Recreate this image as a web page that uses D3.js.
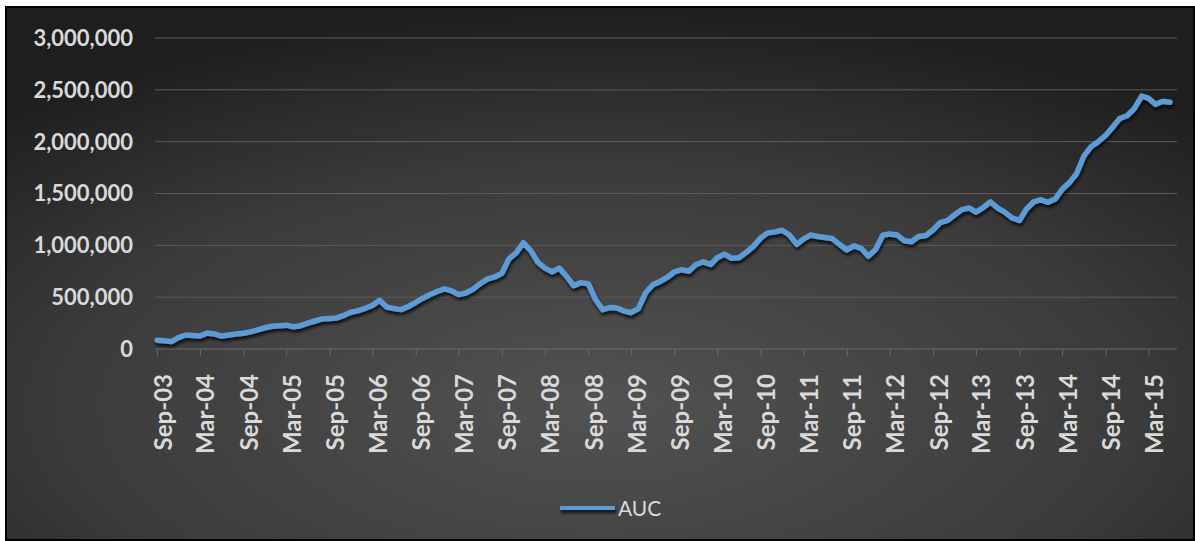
<!DOCTYPE html>
<html>
<head>
<meta charset="utf-8">
<script src="https://cdn.jsdelivr.net/npm/d3@7"></script>
<style>
  body { margin: 0; background: #fff; }
  svg { display: block; }
  text { font-family: Lato, "Open Sans", sans-serif; }
</style>
</head>
<body>
<div id="chart"></div>
<script>
// Monthly AUC values, Sep-03 .. Jun-15
var startMonth = "2003-09";
var seriesName = "AUC";
var aucValues = [
    85000, 80000, 72000, 110000, 135000, 130000, 125000, 155000, 145000, 125000,
    135000, 144000, 152000, 165000, 185000, 205000, 220000, 225000, 230000, 215000,
    225000, 250000, 270000, 290000, 295000, 300000, 325000, 355000, 370000, 395000,
    420000, 470000, 405000, 390000, 380000, 410000, 450000, 490000, 525000, 555000,
    580000, 560000, 525000, 540000, 575000, 630000, 675000, 695000, 730000, 870000,
    930000, 1025000, 950000, 835000, 780000, 745000, 780000, 700000, 610000, 640000,
    630000, 480000, 380000, 400000, 395000, 365000, 350000, 390000, 540000, 620000,
    650000, 690000, 745000, 765000, 750000, 815000, 840000, 815000, 880000, 915000,
    875000, 880000, 930000, 990000, 1070000, 1120000, 1130000, 1145000, 1100000, 1010000,
    1060000, 1100000, 1085000, 1075000, 1065000, 1010000, 955000, 995000, 970000, 895000,
    960000, 1100000, 1110000, 1100000, 1045000, 1035000, 1085000, 1095000, 1150000, 1220000,
    1240000, 1295000, 1345000, 1360000, 1320000, 1365000, 1420000, 1360000, 1320000, 1265000,
    1240000, 1350000, 1420000, 1440000, 1415000, 1450000, 1540000, 1605000, 1690000, 1860000,
    1950000, 2000000, 2060000, 2140000, 2225000, 2250000, 2320000, 2440000, 2420000, 2360000,
    2390000, 2380000
];
var yTicks = [0, 500000, 1000000, 1500000, 2000000, 2500000, 3000000];
var xTickLabels = ["Sep-03", "Mar-04", "Sep-04", "Mar-05", "Sep-05", "Mar-06", "Sep-06", "Mar-07",
    "Sep-07", "Mar-08", "Sep-08", "Mar-09", "Sep-09", "Mar-10", "Sep-10", "Mar-11", "Sep-11",
    "Mar-12", "Sep-12", "Mar-13", "Sep-13", "Mar-14", "Sep-14", "Mar-15"];

var W = 1195, H = 541;
var lineColor = "#5b9bd5";
var textColor = "#d9d9d9";

var parseMonth = d3.timeParse("%Y-%m");
var start = parseMonth(startMonth);
var data = aucValues.map(function(v, i) {
    return { date: d3.timeMonth.offset(start, i), value: v };
});
var tickDates = xTickLabels.map(function(l) { return d3.timeParse("%b-%y")(l); });

var svg = d3.select("#chart").append("svg")
    .attr("width", W)
    .attr("height", H);

var defs = svg.append("defs");
var grad = defs.append("radialGradient")
    .attr("id", "bg")
    .attr("cx", "50%").attr("cy", "75%")
    .attr("r", "75%");
grad.append("stop").attr("offset", "0%").attr("stop-color", "#525252");
grad.append("stop").attr("offset", "60%").attr("stop-color", "#3b3b3b");
grad.append("stop").attr("offset", "100%").attr("stop-color", "#1e1e1e");

// drop shadow, in user space so the flat legend line keeps it too
var shadow = defs.append("filter").attr("id", "shadow")
    .attr("filterUnits", "userSpaceOnUse")
    .attr("x", 0).attr("y", 0).attr("width", W).attr("height", H);
shadow.append("feDropShadow")
    .attr("dx", 1).attr("dy", 3).attr("stdDeviation", 1.6)
    .attr("flood-color", "#000").attr("flood-opacity", 0.75);

// Chart frame
svg.append("rect")
    .attr("x", 6).attr("y", 7)
    .attr("width", W - 7).attr("height", H - 8)
    .attr("fill", "url(#bg)")
    .attr("stroke", "#000")
    .attr("stroke-width", 2);

var plot = { left: 157, right: 1170, top: 38, bottom: 349 };

var x = d3.scaleTime()
    .domain(d3.extent(data, function(d) { return d.date; }))
    .range([plot.left, plot.right]);
var y = d3.scaleLinear()
    .domain([0, 3000000])
    .range([plot.bottom, plot.top]);

// Gridlines
svg.append("g").selectAll("line")
    .data(yTicks.filter(function(t) { return t > 0; }))
    .enter().append("line")
    .attr("x1", plot.left - 2).attr("x2", plot.right + 7)
    .attr("y1", function(d) { return y(d); })
    .attr("y2", function(d) { return y(d); })
    .attr("stroke", "#5c5c5c")
    .attr("stroke-width", 1);

// Y labels
svg.append("g").selectAll("text")
    .data(yTicks)
    .enter().append("text")
    .attr("x", 133)
    .attr("y", function(d) { return y(d); })
    .attr("dy", "0.36em")
    .attr("text-anchor", "end")
    .attr("fill", textColor)
    .style("font-weight", "bold")
    .style("font-size", "22px")
    .text(d3.format(","));

// X axis
var xAxis = d3.axisBottom(x)
    .tickValues(tickDates)
    .tickFormat(d3.timeFormat("%b-%y"))
    .tickSize(7)
    .tickSizeOuter(0);

var xg = svg.append("g")
    .attr("transform", "translate(0," + plot.bottom + ")")
    .call(xAxis);
xg.select(".domain")
    .attr("d", "M" + (plot.left - 2) + ",0H" + (plot.right + 7))
    .attr("stroke", "#6a6a6a");
xg.selectAll(".tick line").attr("stroke", "#6a6a6a");
xg.selectAll(".tick text")
    .attr("transform", "rotate(-90)")
    .attr("x", -25)
    .attr("y", 14)
    .attr("dy", null)
    .style("text-anchor", "end")
    .style("font-family", "Lato, sans-serif")
    .style("font-weight", "bold")
    .style("font-size", "24px")
    .attr("fill", textColor);

// Line
var line = d3.line()
    .x(function(d) { return x(d.date); })
    .y(function(d) { return y(d.value); })
    .curve(d3.curveLinear);

svg.append("path")
    .datum(data)
    .attr("d", line)
    .attr("fill", "none")
    .attr("stroke", lineColor)
    .attr("stroke-width", 5.5)
    .attr("stroke-linejoin", "round")
    .attr("stroke-linecap", "round")
    .attr("filter", "url(#shadow)");

// Legend
var legend = svg.append("g");
legend.append("line")
    .attr("x1", 560).attr("x2", 615)
    .attr("y1", 508).attr("y2", 508)
    .attr("stroke", lineColor)
    .attr("stroke-width", 4)
    .attr("filter", "url(#shadow)");
legend.append("text")
    .attr("x", 618).attr("y", 508)
    .attr("dy", "0.36em")
    .attr("fill", textColor)
    .style("font-size", "21px")
    .text(seriesName);
</script>
</body>
</html>
